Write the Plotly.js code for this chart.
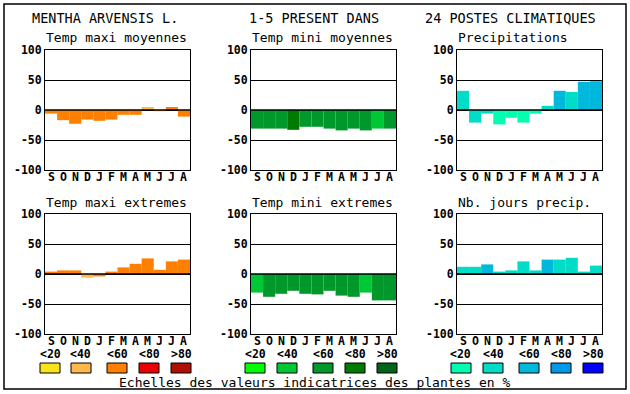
<!DOCTYPE html>
<html><head><meta charset="utf-8">
<script src="https://cdn.plot.ly/plotly-3.0.1.min.js"></script>
<style>body{margin:0;background:#fff}#c{width:630px;height:394px}</style>
</head><body><div id="c"></div>
<script>
const months = ['S','O','N','D','J','F','M','A','M','J','J','A'];
const yTicks = [-100,-50,0,50,100];
const classLabels = ['<20','<40','<60','<80','>80'];

const orangePal = ['#f8e418','#ffb84c','#ff8000','#ea0000','#b01000'];
const greenPal  = ['#00ff00','#00c834','#00982a','#007a00','#006418'];
const bluePal   = ['#00ffb0','#00dcc8','#00b8dc','#0098e8','#0000ff'];

const tmaxMoy    = [-6,-17,-23,-16,-18,-16,-8,-8,5,-2,5,-11];
const tmaxMoyCls = [2,2,2,2,2,2,2,2,1,2,2,2];
const tminMoy    = [-31,-31,-31,-33,-28,-28,-31,-34,-31,-34,-31,-31];
const tminMoyCls = [2,2,2,3,2,2,2,2,2,2,1,2];
const precip     = [32,-21,-6,-24,-13,-21,-6,7,32,30,47,48];
const precipCls  = [1,1,1,0,0,0,0,1,2,1,2,2];
const tmaxExt    = [4,6,6,-6,-4,4,11,17,26,7,21,24];
const tmaxExtCls = [2,2,2,1,2,2,2,2,2,2,2,2];
const tminExt    = [-31,-38,-33,-28,-33,-34,-28,-36,-38,-31,-44,-44];
const tminExtCls = [1,2,2,2,2,2,2,2,2,1,2,2];
const nbJours    = [12,12,16,4,6,21,6,24,24,27,4,14];
const nbJoursCls = [1,1,2,1,1,1,1,2,1,1,1,1];

const panelTitles = ['Temp maxi moyennes','Temp mini moyennes','Precipitations',
                     'Temp maxi extremes','Temp mini extremes','Nb. jours precip.'];
const mainTitle = ['MENTHA ARVENSIS L.','1-5 PRESENT DANS','24 POSTES CLIMATIQUES'];
const footer = 'Echelles des valeurs indicatrices des plantes en %';

const panels = [
  {v:tmaxMoy, c:tmaxMoyCls, pal:orangePal},
  {v:tminMoy, c:tminMoyCls, pal:greenPal},
  {v:precip,  c:precipCls,  pal:bluePal},
  {v:tmaxExt, c:tmaxExtCls, pal:orangePal},
  {v:tminExt, c:tminExtCls, pal:greenPal},
  {v:nbJours, c:nbJoursCls, pal:bluePal}
];

const W=630,H=394;
const px = x=>x/W, py = y=>1-y/H;
const colX = [[45,190],[251,396],[457,602]];
const rowY = [[50,170],[214,334]];
const MONO = 'DejaVu Sans Mono, Liberation Mono, monospace';

const traces=[], shapes=[], annotations=[];
const layout = {width:W,height:H,margin:{l:0,r:0,t:0,b:0},showlegend:false,
  paper_bgcolor:'#fff',plot_bgcolor:'#fff',font:{family:MONO,color:'#000'}};

const xIdx = months.map((m,i)=>i);
panels.forEach((p,k)=>{
  const r=Math.floor(k/3), cI=k%3, n=k+1;
  const xa='x'+(n===1?'':n), ya='y'+(n===1?'':n);
  traces.push({type:'bar',x:xIdx,y:p.v,width:1,xaxis:xa,yaxis:ya,
    marker:{color:p.c.map(i=>p.pal[i]),line:{width:0}},hoverinfo:'skip'});
  const xd=[px(colX[cI][0]),px(colX[cI][1])];
  const yd=[py(rowY[r][1]),py(rowY[r][0])];
  layout['xaxis'+(n===1?'':n)]={domain:xd,anchor:ya,range:[-0.5,11.5],
    tickvals:xIdx,showticklabels:false,showgrid:false,zeroline:false,
    showline:true,mirror:true,linecolor:'#000',linewidth:1,ticks:'',fixedrange:true};
  layout['yaxis'+(n===1?'':n)]={domain:yd,anchor:xa,range:[-100,100],
    tickvals:yTicks,ticktext:yTicks.map(String),showgrid:true,gridcolor:'#000',gridwidth:1,
    zeroline:false,showline:true,mirror:true,linecolor:'#000',linewidth:1,ticks:'',
    tickfont:{family:MONO,size:11.5,weight:'bold'},fixedrange:true};
  shapes.push({type:'line',xref:xa+' domain',yref:ya,x0:0,x1:1,y0:0,y1:0,
    line:{color:'#000',width:1.5},layer:'above'});
  months.forEach((m,i)=>{
    annotations.push({text:m,xref:xa,yref:ya+' domain',x:i,y:-7/120,xanchor:'center',yanchor:'middle',
      showarrow:false,font:{family:MONO,size:11.5,weight:'bold'}});
  });
  annotations.push({text:panelTitles[k],xref:'paper',yref:'paper',
    x:px(colX[cI][0]-1),y:py(r===0?38:202),xanchor:'left',yanchor:'middle',
    showarrow:false,font:{family:MONO,size:13}});
});

// outer frame
shapes.push({type:'rect',xref:'paper',yref:'paper',x0:px(4),x1:px(626),y0:py(389),y1:py(4),
  line:{color:'#000',width:1.5},fillcolor:'rgba(0,0,0,0)',layer:'above'});

// main title
annotations.push({text:mainTitle[0],xref:'paper',yref:'paper',x:px(30),y:py(18),xanchor:'left',yanchor:'middle',showarrow:false,font:{family:MONO,size:13.5}});
annotations.push({text:mainTitle[1],xref:'paper',yref:'paper',x:px(247),y:py(18),xanchor:'left',yanchor:'middle',showarrow:false,font:{family:MONO,size:13.5}});
annotations.push({text:mainTitle[2],xref:'paper',yref:'paper',x:px(598),y:py(18),xanchor:'right',yanchor:'middle',showarrow:false,font:{family:MONO,size:13.5}});

// colour scale legends
const swX = [[40,71,107,139,171],[245,277,313,345,377],[451,483,519,551,583]];
const pals=[orangePal,greenPal,bluePal];
swX.forEach((xs,g)=>{
  xs.forEach((x0,i)=>{
    shapes.push({type:'rect',xref:'paper',yref:'paper',x0:px(x0),x1:px(x0+20),y0:py(373),y1:py(363),
      fillcolor:pals[g][i],line:{color:'#000',width:1}});
    annotations.push({text:classLabels[i],xref:'paper',yref:'paper',x:px(x0+10),y:py(354),
      xanchor:'center',yanchor:'middle',showarrow:false,font:{family:MONO,size:11.5,weight:'bold'}});
  });
});
annotations.push({text:footer,xref:'paper',yref:'paper',x:px(315),y:py(382),xanchor:'center',yanchor:'middle',
  showarrow:false,font:{family:MONO,size:13}});

layout.shapes=shapes; layout.annotations=annotations;
Plotly.newPlot('c',traces,layout,{staticPlot:true,displayModeBar:false});
</script></body></html>
